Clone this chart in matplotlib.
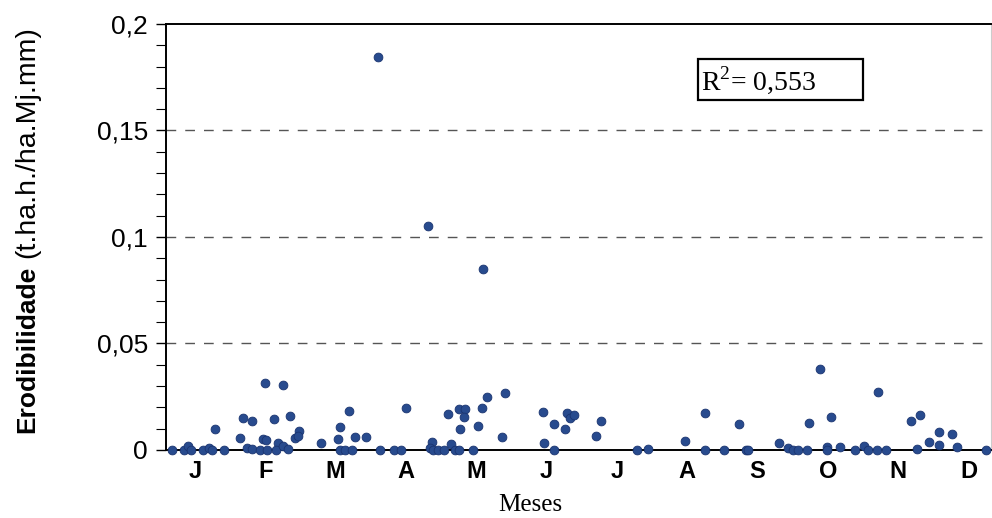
import numpy as np
import matplotlib
matplotlib.use('Agg')
import matplotlib.pyplot as plt
from matplotlib.patches import Rectangle
from matplotlib.ticker import MultipleLocator

# Posição no ano (em meses, 1 = Janeiro) e erodibilidade de cada evento
mes_pos = [0.68, 0.84, 0.90, 0.94, 1.12, 1.20, 1.24, 1.29, 1.42, 1.64,
           1.68, 1.81, 1.74, 1.81, 1.92, 2.02, 2.00, 2.26, 1.97, 2.01,
           2.13, 2.18, 2.16, 2.25, 2.33, 2.35, 2.42, 2.48, 2.47, 2.80,
           3.04, 3.06, 3.19, 3.06, 3.13, 3.23, 3.28, 3.44, 3.64, 3.60,
           3.83, 3.93, 4.00, 4.31, 4.37, 4.34, 4.39, 4.46, 4.54, 4.64,
           4.70, 4.75, 4.60, 4.76, 4.84, 4.83, 4.77, 4.95, 5.03, 5.09,
           5.10, 5.15, 5.41, 5.37, 5.95, 5.96, 6.10, 6.10, 6.26, 6.29,
           6.33, 6.39, 6.71, 6.78, 7.28, 7.45, 7.97, 8.25, 8.25, 8.52,
           8.74, 8.84, 8.87, 9.31, 9.44, 9.51, 9.58, 9.70, 9.73, 9.89,
           9.99, 9.99, 10.05, 10.18, 10.39, 10.51, 10.57, 10.70, 10.83, 10.72,
           11.18, 11.31, 11.27, 11.44, 11.58, 11.58, 11.76, 11.83, 12.25]
erodibilidade = [0.0, 0.0, 0.0019, 0.0, 0.0, 0.0007, 0.0, 0.0097, 0.0, 0.0058,
                 0.0149, 0.0136, 0.0010, 0.0003, 0.0, 0.0, 0.0313, 0.0307, 0.0050, 0.0047,
                 0.0144, 0.0034, 0.0, 0.0019, 0.0003, 0.0161, 0.0055, 0.0089, 0.0066, 0.0031,
                 0.0050, 0.0107, 0.0185, 0.0, 0.0, 0.0, 0.0060, 0.0060, 0.0, 0.1845,
                 0.0, 0.0, 0.0196, 0.1050, 0.0039, 0.0008, 0.0, 0.0, 0.0, 0.0028,
                 0.0, 0.0, 0.0168, 0.0191, 0.0191, 0.0154, 0.0100, 0.0, 0.0114, 0.0196,
                 0.0850, 0.0250, 0.0266, 0.0063, 0.0180, 0.0031, 0.0121, 0.0, 0.0097, 0.0172,
                 0.0149, 0.0164, 0.0067, 0.0138, 0.0, 0.0003, 0.0044, 0.0172, 0.0, 0.0,
                 0.0121, 0.0, 0.0, 0.0034, 0.0008, 0.0, 0.0, 0.0, 0.0125, 0.0379,
                 0.0015, 0.0, 0.0156, 0.0013, 0.0, 0.0019, 0.0, 0.0, 0.0, 0.0271,
                 0.0138, 0.0163, 0.0003, 0.0038, 0.0086, 0.0022, 0.0075, 0.0016, 0.0]

meses = ['J', 'F', 'M', 'A', 'M', 'J', 'J', 'A', 'S', 'O', 'N', 'D']
y_ticks = [0, 0.05, 0.1, 0.15, 0.2]
y_labels = ['0', '0,05', '0,1', '0,15', '0,2']
r2_texto = 'R$^2$= 0,553'

plt.rcParams['font.family'] = ['Liberation Sans', 'DejaVu Sans']
plt.rcParams['mathtext.fontset'] = 'custom'
plt.rcParams['mathtext.rm'] = 'Liberation Serif'

fig = plt.figure(figsize=(9.92, 5.18), dpi=100)
ax = fig.add_axes([0.1673, 0.1313, 0.8317, 0.8224])

ax.scatter(mes_pos, erodibilidade, s=40, color='#284b8e', edgecolors='#1a3470',
           linewidths=0.6, zorder=3, clip_on=False)

ax.set_xlim(0.59, 12.32)
ax.set_ylim(0, 0.2)

# grade tracejada nos valores principais
for v in y_ticks[1:-1]:
    ax.axhline(v, color='#555555', lw=1.0, dashes=(7, 6.5), zorder=1)

ax.set_xticks(range(1, 13))
ax.set_xticklabels(meses, fontsize=17, fontweight='bold')
ax.tick_params(axis='x', length=0, pad=7)

ax.set_yticks(y_ticks)
ax.set_yticklabels(y_labels, fontsize=19)
ax.yaxis.set_minor_locator(MultipleLocator(0.01))
ax.tick_params(axis='y', which='major', direction='out', length=7, width=1, pad=6)
ax.tick_params(axis='y', which='minor', direction='out', length=7, width=0.8)

for lado in ['left', 'bottom', 'top']:
    ax.spines[lado].set_linewidth(1.4)
    ax.spines[lado].set_color('black')
ax.spines['right'].set_color('#cccccc')
ax.spines['right'].set_linewidth(0.8)

# caixa com o coeficiente de determinação
ax.add_patch(Rectangle((0.645, 0.822), 0.2, 0.096, transform=ax.transAxes,
                       fill=False, edgecolor='black', lw=1.6, zorder=4))
ax.text(0.648, 0.869, r2_texto, transform=ax.transAxes, fontsize=20,
        family='Liberation Serif', va='center', ha='left', zorder=5)

fig.text(530 / 992, 1 - 505 / 518, 'Meses', fontsize=18, family='Liberation Serif',
         ha='center', va='center')

# rótulo do eixo y: parte em negrito e parte normal
fig.text(27 / 992, 1 - 433 / 518, 'Erodibilidade', rotation=90, fontsize=19,
         fontweight='bold', ha='center', va='bottom')
fig.text(27 / 992, 1 - 258 / 518, '(t.ha.h./ha.Mj.mm)', rotation=90, fontsize=20.5,
         ha='center', va='bottom')

plt.savefig('out.png', dpi=100)
plt.close()
